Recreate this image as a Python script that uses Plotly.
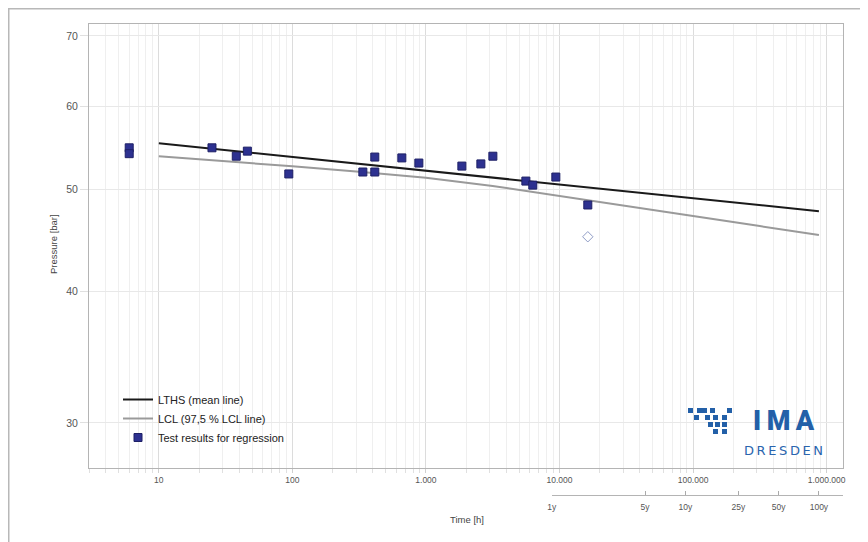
import plotly.graph_objects as go

# ---------------- data ----------------
test_time_h = [6, 6, 25, 38, 46, 94, 337, 414, 414, 660, 885, 1858, 2578, 3170, 5600, 6310, 9390, 16290]
test_pressure_bar = [54.8, 54.1, 54.8, 53.8, 54.4, 51.75, 51.97, 53.7, 51.97, 53.6, 53.0, 52.65, 52.9, 53.8, 50.95, 50.5, 51.4, 48.35]

excluded_time_h = [16290]
excluded_pressure_bar = [45.1]

lths_time_h = [10, 876000]
lths_pressure_bar = [55.35, 47.7]

lcl_time_h = [10, 32, 100, 316, 1000, 3160, 10000, 31600, 100000, 316000, 876000]
lcl_pressure_bar = [53.79, 53.22, 52.63, 51.99, 51.31, 50.40, 49.33, 48.28, 47.20, 46.17, 45.27]

x_tick_vals = [10, 100, 1000, 10000, 100000, 1000000]
x_tick_text = ["10", "100", "1.000", "10.000", "100.000", "1.000.000"]
y_tick_vals = [30, 40, 50, 60, 70]
y_tick_text = ["30", "40", "50", "60", "70"]
year_labels = ["1y", "5y", "10y", "25y", "50y", "100y"]
year_values = [1, 5, 10, 25, 50, 100]
HOURS_PER_YEAR = 8760

# ---------------- geometry helpers ----------------
# page body has an 8 px margin, so the figure is 860x534 and sits at (8, 8)
OFF = 8
W, H = 860, 534
ML, MR, MT, MB = 81, 25, 16, 47
PW = W - ML - MR
PH = H - MT - MB


def fx(x):  # figure pixel -> paper
    return (x - ML) / PW


def fy(y):
    return (H - MB - y) / PH


def rx(X):  # screen pixel -> paper
    return fx(X - OFF)


def ry(Y):
    return fy(Y - OFF)


minor_vals = [m * 10 ** e for e in range(0, 7) for m in range(2, 10)]
minor_vals = [v for v in minor_vals if 3 <= v <= 1.3e6]

NAVY = "#2d3190"
LOGO_BLUE = "#2360a8"
fig = go.Figure()

fig.add_trace(go.Scatter(
    x=lths_time_h, y=lths_pressure_bar, mode="lines",
    name="LTHS (mean line)", line=dict(color="#1a1a1a", width=2),
))
fig.add_trace(go.Scatter(
    x=lcl_time_h, y=lcl_pressure_bar, mode="lines",
    name="LCL (97,5 % LCL line)", line=dict(color="#9a9a9a", width=2),
))
fig.add_trace(go.Scatter(
    x=test_time_h, y=test_pressure_bar, mode="markers",
    name="Test results for regression",
    marker=dict(symbol="square", size=8, color=NAVY, line=dict(color="#1e2066", width=1)),
))
fig.add_trace(go.Scatter(
    x=excluded_time_h, y=excluded_pressure_bar, mode="markers", showlegend=False,
    marker=dict(symbol="diamond-open", size=8, color="#8f9cc6", line=dict(width=1)),
))
# carrier trace for the secondary (years) axis
fig.add_trace(go.Scatter(
    x=[y * HOURS_PER_YEAR for y in year_values], y=[50] * len(year_values),
    xaxis="x2", yaxis="y2", mode="markers", marker=dict(opacity=0),
    showlegend=False, hoverinfo="skip",
))

ydom = [fy(468 - OFF), 1]

fig.update_layout(
    width=W, height=H,
    margin=dict(l=ML, r=MR, t=MT, b=MB),
    paper_bgcolor="white", plot_bgcolor="rgba(0,0,0,0)",
    font=dict(family="Liberation Sans, Arial, sans-serif", color="#444"),
    xaxis=dict(
        type="log", range=[0.4771, 6.1228], anchor="y",
        tickmode="array", tickvals=x_tick_vals, ticktext=x_tick_text,
        tickfont=dict(size=8.5, color="#555"),
        showgrid=True, gridcolor="#dcdcdc", gridwidth=1,
        ticks="outside", ticklen=4, tickcolor="#d0d0d0",
        minor=dict(tickmode="array", tickvals=minor_vals, showgrid=True,
                   gridcolor="#efefef", ticks="outside", ticklen=4, tickcolor="#e0e0e0"),
        showline=True, linecolor="#b4b4b4", linewidth=1, mirror=True,
        zeroline=False,
    ),
    yaxis=dict(
        type="log", range=[1.4343, 1.8565], domain=ydom,
        tickmode="array", tickvals=y_tick_vals, ticktext=y_tick_text,
        tickfont=dict(size=10.5, color="#555"),
        showgrid=True, gridcolor="#e8e8e8",
        ticks="outside", ticklen=8, tickcolor="#e0e0e0",
        showline=True, linecolor="#b4b4b4", linewidth=1, mirror=True,
        zeroline=False,
    ),
    xaxis2=dict(
        type="log", range=[3.9425, 6.1228], domain=[fx(551.7 - OFF), 1],
        anchor="free", position=0,
        tickmode="array", tickvals=[y * HOURS_PER_YEAR for y in year_values], ticktext=year_labels,
        tickfont=dict(size=8.5, color="#555"),
        ticks="inside", ticklen=4, tickcolor="#aaaaaa", ticklabelstandoff=4,
        showline=True, linecolor="#b4b4b4", linewidth=1,
        showgrid=False, zeroline=False,
    ),
    yaxis2=dict(
        type="log", range=[1.4343, 1.8565], domain=ydom, anchor="x2",
        visible=False,
    ),
    legend=dict(
        x=fx(110), y=fy(377), xanchor="left", yanchor="top",
        bgcolor="rgba(0,0,0,0)", font=dict(size=11, color="#222"),
        tracegroupgap=0, itemwidth=30,
    ),
    showlegend=True,
)

annotations = [
    dict(text="Time [h]", x=rx(467), y=ry(519), xref="paper", yref="paper",
         xanchor="center", yanchor="middle",
         showarrow=False, font=dict(size=9.5, color="#444")),
    dict(text="Pressure [bar]", x=rx(53), y=ry(244), xref="paper", yref="paper",
         xanchor="center", yanchor="middle",
         showarrow=False, textangle=-90, font=dict(size=9.5, color="#444")),
    dict(text="I\u2009M\u2009A", x=rx(783.5), y=ry(421), xref="paper", yref="paper",
         xanchor="center", yanchor="middle",
         showarrow=False, font=dict(size=27, color=LOGO_BLUE, family="Roboto, DejaVu Sans", weight=900)),
    dict(text="D\u2009R\u2009E\u2009S\u2009D\u2009E\u2009N", x=rx(783.5), y=ry(450), xref="paper", yref="paper",
         xanchor="center", yanchor="middle",
         showarrow=False, font=dict(size=13, color="#2a65ae", family="DejaVu Sans")),
]
fig.update_layout(annotations=annotations)

shapes = [
    # outer frame (top and left edges of the figure)
    dict(type="line", xref="paper", yref="paper", x0=fx(0), x1=fx(W), y0=fy(0.75), y1=fy(0.75),
         line=dict(color="#b8b8b8", width=1.5)),
    dict(type="line", xref="paper", yref="paper", x0=fx(0.75), x1=fx(0.75), y0=fy(0), y1=fy(H),
         line=dict(color="#b8b8b8", width=1.5)),
]
# logo pixel icon (screen coordinates of each small square's top-left)
logo_cells = [
    (688, 408), (697, 408), (702, 408), (710, 408), (727, 408),
    (694, 415), (705, 415), (713, 415), (722, 415),
    (708, 422), (715, 422), (722, 422),
    (713, 429), (722, 429),
]
for (cx, cy) in logo_cells:
    shapes.append(dict(type="rect", xref="paper", yref="paper",
                       x0=rx(cx), x1=rx(cx + 5), y0=ry(cy + 5), y1=ry(cy),
                       fillcolor=LOGO_BLUE, line=dict(width=0)))
fig.update_layout(shapes=shapes)

fig.write_html("out.html")
